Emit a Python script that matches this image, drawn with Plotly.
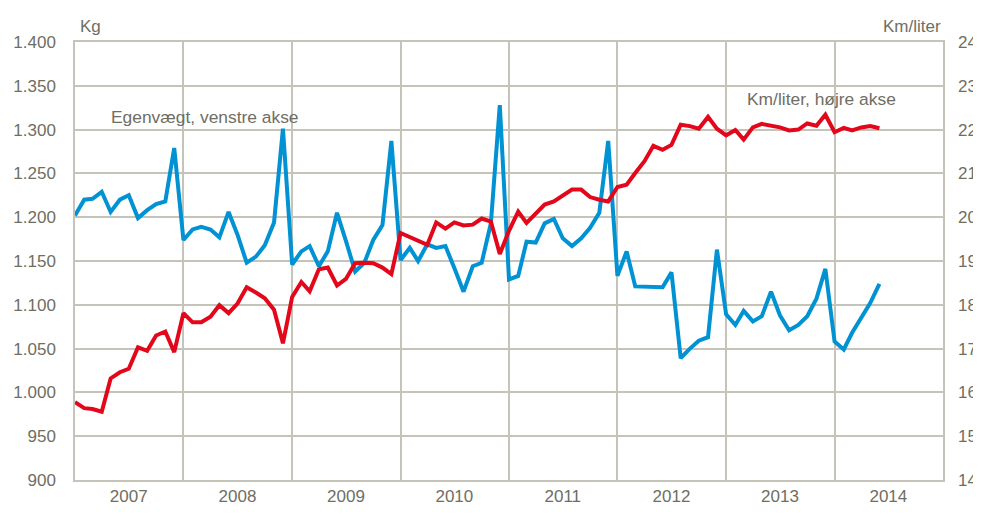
import pandas as pd
import plotly.graph_objects as go

months = pd.date_range("2007-01-01", periods=90, freq="MS")

egenvaegt_kg = [
    1202, 1220, 1221, 1229, 1206, 1220, 1225, 1199, 1208, 1215, 1218, 1279,
    1174, 1186, 1189, 1186, 1177, 1206, 1180, 1148, 1155, 1168, 1194, 1301,
    1146, 1161, 1167, 1144, 1161, 1205, 1173, 1138, 1148, 1174, 1191, 1287,
    1151, 1165, 1150, 1169, 1165, 1167, 1142, 1115, 1144, 1148, 1193, 1328,
    1129, 1133, 1172, 1171, 1193, 1198, 1176, 1167, 1176, 1188, 1205, 1287,
    1133, 1161, 1121, 1121, 1121, 1120, 1137, 1039, 1050, 1059, 1063, 1163,
    1089, 1077, 1093, 1081, 1087, 1115, 1088, 1071, 1077, 1087, 1107, 1141,
    1058, 1049, 1068, 1086, 1102, 1124,
]

km_per_liter = [
    15.78, 15.64, 15.62, 15.56, 16.32, 16.46, 16.54, 17.03, 16.95, 17.30, 17.39, 16.92,
    17.81, 17.60, 17.60, 17.73, 17.99, 17.81, 18.03, 18.40, 18.28, 18.15, 17.89, 17.12,
    18.18, 18.52, 18.31, 18.81, 18.85, 18.44, 18.59, 18.95, 18.96, 18.95, 18.85, 18.70,
    19.64, 19.54, 19.45, 19.37, 19.88, 19.74, 19.88, 19.81, 19.83, 19.97, 19.90, 19.16,
    19.69, 20.13, 19.87, 20.07, 20.29, 20.36, 20.49, 20.63, 20.63, 20.46, 20.40, 20.36,
    20.69, 20.74, 21.01, 21.28, 21.63, 21.54, 21.65, 22.11, 22.08, 22.02, 22.29, 22.02,
    21.87, 21.99, 21.77, 22.05, 22.13, 22.09, 22.05, 21.98, 22.00, 22.14, 22.09, 22.34,
    21.94, 22.04, 21.98, 22.05, 22.08, 22.03,
]

year_labels = ["2007", "2008", "2009", "2010", "2011", "2012", "2013", "2014"]
left_ticks = [900, 950, 1000, 1050, 1100, 1150, 1200, 1250, 1300, 1350, 1400]
left_ticktext = ["900", "950", "1.000", "1.050", "1.100", "1.150", "1.200",
                 "1.250", "1.300", "1.350", "1.400"]
right_ticks = list(range(14, 25))

BLUE = "#0092d2"
RED = "#e2071a"
TXT = "#6f6e63"
GRID = "#c6c4b9"
FONT = "Liberation Sans, Arial, sans-serif"

fig = go.Figure()
fig.add_trace(go.Scatter(x=months, y=egenvaegt_kg, mode="lines",
                         line=dict(color=BLUE, width=4), yaxis="y",
                         name="Egenvægt"))
fig.add_trace(go.Scatter(x=months, y=km_per_liter, mode="lines",
                         line=dict(color=RED, width=4), yaxis="y2",
                         name="Km/liter"))

year_mid = [f"{y}-07-01" for y in year_labels]

fig.update_layout(
    width=973, height=507,
    margin=dict(l=67, r=38, t=34, b=35, autoexpand=False),
    paper_bgcolor="white", plot_bgcolor="white",
    showlegend=False,
    font=dict(family=FONT, size=17, color=TXT),
    xaxis=dict(
        type="date", automargin=False,
        range=["2007-01-01", "2015-01-01"],
        tickmode="array", tickvals=year_mid, ticktext=year_labels,
        showgrid=False, ticks="", zeroline=False,
        showline=True, linecolor=GRID, linewidth=1.5, mirror=True,
        minor=dict(tickmode="array",
                   tickvals=[f"{y}-01-01" for y in range(2008, 2015)],
                   showgrid=True, gridcolor=GRID, gridwidth=1.5, ticks=""),
        tickfont=dict(size=17, color=TXT),
    ),
    yaxis=dict(
        range=[900, 1400], tickmode="array", tickvals=left_ticks,
        ticktext=left_ticktext, showgrid=True, gridcolor=GRID, gridwidth=1.5,
        zeroline=False, showline=True, linecolor=GRID, linewidth=1.5,
        mirror=True, ticks="", ticklabelstandoff=14, automargin=False,
        tickfont=dict(size=17, color=TXT),
    ),
    yaxis2=dict(
        range=[14, 24], tickmode="array", tickvals=right_ticks,
        overlaying="y", side="right", showgrid=False, zeroline=False,
        ticks="", ticklabelstandoff=14, automargin=False,
        tickfont=dict(size=17, color=TXT),
    ),
    annotations=[
        dict(text="Kg", xref="paper", yref="paper", x=0.003, y=1.035,
             xanchor="left", yanchor="middle", showarrow=False,
             font=dict(size=17, color=TXT)),
        dict(text="Km/liter", xref="paper", yref="paper", x=1.0, y=1.035,
             xanchor="right", yanchor="middle", showarrow=False,
             font=dict(size=17, color=TXT)),
        dict(text="Egenvægt, venstre akse", xref="x", yref="y",
             x="2007-04-25", y=1314, xanchor="left", yanchor="middle",
             showarrow=False, font=dict(size=17.4, color=TXT)),
        dict(text="Km/liter, højre akse", xref="x", yref="y",
             x="2013-03-05", y=1335, xanchor="left", yanchor="middle",
             showarrow=False, font=dict(size=17.4, color=TXT)),
    ],
)

fig.write_html("out.html")
